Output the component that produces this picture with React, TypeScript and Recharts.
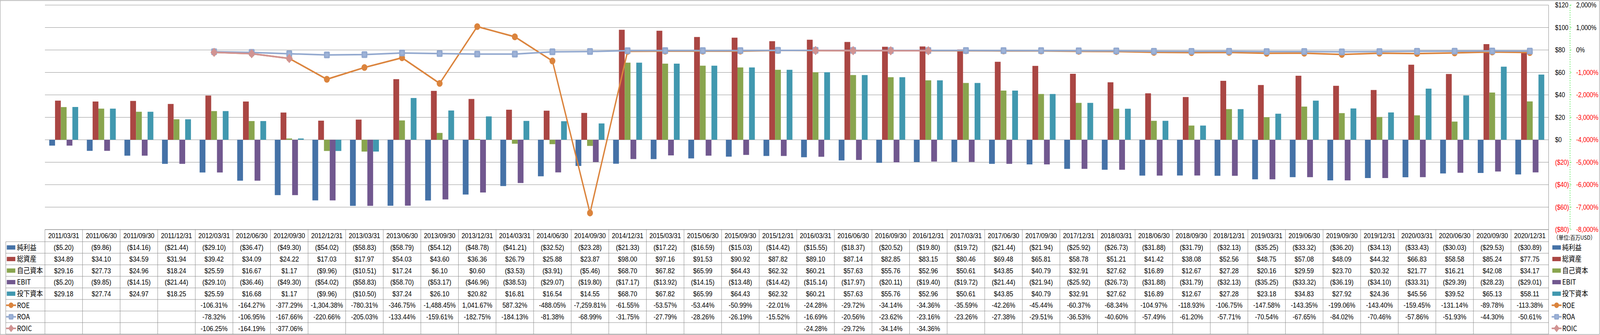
import React from "react";
import { ComposedChart, Bar, Line, XAxis, YAxis, CartesianGrid } from "recharts";

// 四半期末
const dates = [
  "2011/03/31", "2011/06/30", "2011/09/30", "2011/12/31",
  "2012/03/31", "2012/06/30", "2012/09/30", "2012/12/31",
  "2013/03/31", "2013/06/30", "2013/09/30", "2013/12/31",
  "2014/03/31", "2014/06/30", "2014/09/30", "2014/12/31",
  "2015/03/31", "2015/06/30", "2015/09/30", "2015/12/31",
  "2016/03/31", "2016/06/30", "2016/09/30", "2016/12/31",
  "2017/03/31", "2017/06/30", "2017/09/30", "2017/12/31",
  "2018/03/31", "2018/06/30", "2018/09/30", "2018/12/31",
  "2019/03/31", "2019/06/30", "2019/09/30", "2019/12/31",
  "2020/03/31", "2020/06/30", "2020/09/30", "2020/12/31",
];

// 単位: 百万USD
const netIncome = [
  -5.2, -9.86, -14.16, -21.44, -29.1, -36.47, -49.3, -54.02,
  -58.83, -58.79, -54.12, -48.78, -41.21, -32.52, -23.28, -21.33,
  -17.22, -16.59, -15.03, -14.42, -15.55, -18.37, -20.52, -19.8,
  -19.72, -21.44, -21.94, -25.92, -26.73, -31.88, -31.79, -32.13,
  -35.25, -33.32, -36.2, -34.13, -33.43, -30.03, -29.53, -30.89,
];
const totalAssets = [
  34.89, 34.1, 34.59, 31.94, 39.42, 34.09, 24.22, 17.03,
  17.97, 54.03, 43.6, 36.36, 26.79, 25.88, 23.87, 98.0,
  97.16, 91.53, 90.92, 87.82, 89.1, 87.14, 82.85, 83.15,
  80.46, 69.48, 65.81, 58.78, 51.21, 41.42, 38.08, 52.56,
  48.75, 57.08, 48.09, 44.32, 66.83, 58.58, 85.24, 77.75,
];
const equity = [
  29.16, 27.73, 24.96, 18.24, 25.59, 16.67, 1.17, -9.96,
  -10.51, 17.24, 6.1, 0.6, -3.53, -3.91, -5.46, 68.7,
  67.82, 65.99, 64.43, 62.32, 60.21, 57.63, 55.76, 52.96,
  50.61, 43.85, 40.79, 32.91, 27.62, 16.89, 12.67, 27.28,
  20.16, 29.59, 23.7, 20.32, 21.77, 16.21, 42.08, 34.17,
];
const ebit = [
  -5.2, -9.85, -14.15, -21.44, -29.1, -36.46, -49.3, -54.02,
  -58.83, -58.7, -53.17, -46.96, -38.53, -29.07, -19.8, -17.17,
  -13.92, -14.15, -13.48, -14.42, -15.14, -17.97, -20.11, -19.4,
  -19.72, -21.44, -21.94, -25.92, -26.73, -31.88, -31.79, -32.13,
  -35.25, -33.32, -36.19, -34.1, -33.31, -29.39, -28.23, -29.01,
];
const investedCapital = [
  29.18, 27.74, 24.97, 18.25, 25.59, 16.68, 1.17, -9.96,
  -10.5, 37.24, 26.1, 20.82, 16.81, 16.54, 14.55, 68.7,
  67.82, 65.99, 64.43, 62.32, 60.21, 57.63, 55.76, 52.96,
  50.61, 43.85, 40.79, 32.91, 27.62, 16.89, 12.67, 27.28,
  23.18, 34.83, 27.92, 24.36, 45.56, 39.52, 65.13, 58.11,
];

// 単位: %
const roe = [
  null, null, null, null, -106.31, -164.27, -377.29, -1304.38,
  -780.31, -346.75, -1488.45, 1041.67, 587.32, -488.05, -7259.81, -61.55,
  -53.57, -53.44, -50.99, -22.01, -24.28, -29.72, -34.14, -34.36,
  -35.59, -42.26, -45.44, -60.37, -68.34, -104.97, -118.93, -106.75,
  -147.58, -143.35, -199.06, -143.4, -159.45, -131.14, -89.78, -113.38,
];
const roa = [
  null, null, null, null, -78.32, -106.95, -167.66, -220.66,
  -205.03, -133.44, -159.61, -182.75, -184.13, -81.38, -68.99, -31.75,
  -27.79, -28.26, -26.19, -15.52, -16.69, -20.56, -23.62, -23.16,
  -23.26, -27.38, -29.51, -36.53, -40.6, -57.49, -61.2, -57.71,
  -70.54, -67.65, -84.02, -70.46, -57.86, -51.93, -44.3, -50.61,
];
const roic = [
  null, null, null, null, -106.25, -164.19, -377.06, null,
  null, null, null, null, null, null, null, null,
  null, null, null, null, -24.28, -29.72, -34.14, -34.36,
  null, null, null, null, null, null, null, null,
  null, null, null, null, null, null, null, null,
];

const usdTicks = [-80, -60, -40, -20, 0, 20, 40, 60, 80, 100, 120];
const pctTicks = [-8000, -7000, -6000, -5000, -4000, -3000, -2000, -1000, 0, 1000, 2000];

type Shape = "rect" | "circle" | "square" | "diamond";

const series = [
  { key: "netIncome", name: "純利益", color: "#4572A7", values: netIncome, shape: "rect" as Shape, kind: "usd" },
  { key: "totalAssets", name: "総資産", color: "#AA4643", values: totalAssets, shape: "rect" as Shape, kind: "usd" },
  { key: "equity", name: "自己資本", color: "#89A54E", values: equity, shape: "rect" as Shape, kind: "usd" },
  { key: "ebit", name: "EBIT", color: "#71588F", values: ebit, shape: "rect" as Shape, kind: "usd" },
  { key: "investedCapital", name: "投下資本", color: "#4198AF", values: investedCapital, shape: "rect" as Shape, kind: "usd" },
  { key: "roe", name: "ROE", color: "#DB843D", values: roe, shape: "circle" as Shape, kind: "pct" },
  { key: "roa", name: "ROA", color: "#93A9CF", values: roa, shape: "square" as Shape, kind: "pct" },
  { key: "roic", name: "ROIC", color: "#D19392", values: roic, shape: "diamond" as Shape, kind: "pct" },
];

const data = dates.map((d, i) => {
  const row: Record<string, any> = { date: d };
  series.forEach((s) => (row[s.key] = s.values[i]));
  return row;
});

// レイアウト (4701px幅で組んで、ウィンドウが狭ければ横方向だけ縮める)
const W = 4701;
const H = 858;
const LEFT = 132;
const USD_AXIS_W = 63;
const PCT_AXIS_W = 88;
const COL_W = (W - LEFT - USD_AXIS_W - PCT_AXIS_W) / dates.length;
const HEADER_H = 31;
const ROW_H = 29.6;
const GRID = "#868686";
const TABLE_FONT = "'Liberation Sans', Arial, sans-serif";
const CJK_FONT = "'Noto Sans CJK JP', sans-serif";

// 軸ID (内側の$軸が先に並ぶように)
const USD_AXIS = "a-usd";
const PCT_AXIS = "b-pct";

const fmtUsd = (v: number | null) =>
  v == null ? "" : v < 0 ? `($${Math.abs(v).toFixed(2)})` : `$${v.toFixed(2)}`;
const fmtPct = (v: number | null) =>
  v == null
    ? ""
    : `${v.toLocaleString("en-US", { minimumFractionDigits: 2, maximumFractionDigits: 2 })}%`;

function Marker({ shape, color, cx, cy, s = 1 }: { shape: Shape; color: string; cx: number; cy: number; s?: number }) {
  if (shape === "circle") return <circle cx={cx} cy={cy} r={8.7 * s} fill={color} />;
  if (shape === "square")
    return (
      <g>
        <rect x={cx - 8.6 * s} y={cy - 8.6 * s} width={17.2 * s} height={17.2 * s} rx={3 * s} fill={color} />
        <rect x={cx - 4.5 * s} y={cy - 4.5 * s} width={9 * s} height={9 * s} fill="#9EB3D8" />
      </g>
    );
  if (shape === "diamond")
    return (
      <polygon
        points={`${cx},${cy - 12 * s} ${cx + 10.5 * s},${cy} ${cx},${cy + 12 * s} ${cx - 10.5 * s},${cy}`}
        fill={color}
      />
    );
  return null;
}

function makeDot(shape: Shape, color: string) {
  return (p: any) => {
    const { cx, cy, index } = p;
    if (cx == null || cy == null || Number.isNaN(cy)) return <g key={`dot-${index}`} />;
    return (
      <g key={`dot-${index}`}>
        <Marker shape={shape} color={color} cx={cx} cy={cy} />
      </g>
    );
  };
}

function LegendKey({ s, x, cy, w }: { s: (typeof series)[number]; x: number; cy: number; w: number }) {
  if (s.shape === "rect") return <rect x={x} y={cy - 5.5} width={w} height={11} fill={s.color} />;
  return (
    <g>
      <line x1={x - 2} y1={cy} x2={x + w + 2} y2={cy} stroke={s.color} strokeWidth={4} />
      <Marker shape={s.shape} color={s.color} cx={x + w / 2} cy={cy} s={0.82} />
    </g>
  );
}

function TableColumn(props: any) {
  const { x, y, payload } = props;
  const i: number = props.index ?? payload.index;
  const left = x - COL_W / 2;
  const right = x + COL_W / 2;
  const top = y;
  const bottom = top + HEADER_H + ROW_H * series.length;
  const rowTop = (k: number) => top + HEADER_H + ROW_H * k;
  const last = i === dates.length - 1;

  return (
    <g>
      {i === 0 && <line x1={left} y1={top} x2={left} y2={bottom} stroke={GRID} />}
      <line x1={right} y1={top} x2={right} y2={bottom} stroke={GRID} />
      <text
        x={x}
        y={top + HEADER_H / 2}
        dy="0.36em"
        textAnchor="middle"
        fontSize={18.5}
        fontFamily={TABLE_FONT}
        fill="#000"
      >
        {payload.value}
      </text>
      {series.map((s, k) => (
        <g key={s.key}>
          <line x1={left} y1={rowTop(k)} x2={right} y2={rowTop(k)} stroke={GRID} />
          <text
            x={x}
            y={rowTop(k) + ROW_H / 2}
            dy="0.36em"
            textAnchor="middle"
            fontSize={18.5}
            fontFamily={TABLE_FONT}
            fill="#000"
          >
            {s.kind === "usd" ? fmtUsd(s.values[i] as number) : fmtPct(s.values[i] as number | null)}
          </text>
        </g>
      ))}
      <line x1={left} y1={bottom} x2={right} y2={bottom} stroke={GRID} />

      {i === 0 && (
        <g>
          <line x1={17} y1={rowTop(0)} x2={17} y2={bottom} stroke={GRID} />
          {series.map((s, k) => (
            <g key={s.key}>
              <line x1={17} y1={rowTop(k)} x2={left} y2={rowTop(k)} stroke={GRID} />
              <LegendKey s={s} x={20} cy={rowTop(k) + ROW_H / 2} w={25} />
              <text
                x={50}
                y={rowTop(k) + ROW_H / 2}
                dy="0.36em"
                fontSize={19}
                fontFamily={CJK_FONT}
                fill="#000"
              >
                {s.name}
              </text>
            </g>
          ))}
          <line x1={17} y1={bottom} x2={left} y2={bottom} stroke={GRID} />
        </g>
      )}

      {last && (
        <g>
          <text
            x={right + 14}
            y={top + HEADER_H / 2 + 5}
            dy="0.36em"
            fontSize={15}
            fontFamily={CJK_FONT}
            fill="#000"
          >
            （単位:百万USD）
          </text>
          {series.map((s, k) => (
            <g key={s.key}>
              <LegendKey s={s} x={right + 11} cy={rowTop(k) + ROW_H / 2} w={25} />
              <text
                x={right + 40}
                y={rowTop(k) + ROW_H / 2}
                dy="0.36em"
                fontSize={19}
                fontFamily={CJK_FONT}
                fill="#000"
              >
                {s.name}
              </text>
            </g>
          ))}
        </g>
      )}
    </g>
  );
}

function UsdTick(props: any) {
  const { x, y, payload } = props;
  const v: number = payload.value;
  return (
    <text x={x} y={y} dy="0.36em" textAnchor="start" fontSize={17.5} fontFamily={TABLE_FONT} fill={v < 0 ? "#FF0000" : "#000"}>
      {v < 0 ? `($${-v})` : `$${v}`}
    </text>
  );
}

function PctTick(props: any) {
  const { x, y, payload } = props;
  const v: number = payload.value;
  return (
    <text x={x} y={y} dy="0.36em" textAnchor="start" fontSize={17.5} fontFamily={TABLE_FONT} fill={v < 0 ? "#FF0000" : "#000"}>
      {`${v.toLocaleString("en-US")}%`}
    </text>
  );
}

export default function App() {
  const vw = typeof window !== "undefined" ? window.innerWidth : W;
  const sx = Math.min(1, vw / W);
  return (
    <div
      style={{
        position: "absolute",
        left: 0,
        top: 0,
        width: W,
        height: H,
        background: "#fff",
        transform: `scaleX(${sx})`,
        transformOrigin: "0 0",
      }}
    >
      <ComposedChart
        width={W}
        height={H}
        data={data}
        margin={{ top: 13, right: 0, bottom: 0, left: LEFT }}
        barCategoryGap="11.5%"
        barGap={0}
      >
        <CartesianGrid yAxisId={USD_AXIS} vertical={false} stroke={GRID} fill="none" />
        <XAxis
          dataKey="date"
          height={270}
          interval={0}
          tickSize={0}
          tickMargin={0}
          axisLine={{ stroke: GRID }}
          tickLine={false}
          tick={TableColumn}
        />
        <YAxis
          yAxisId={USD_AXIS}
          orientation="right"
          width={USD_AXIS_W}
          domain={[-80, 120]}
          ticks={usdTicks}
          interval={0}
          axisLine={{ stroke: GRID }}
          tickLine={false}
          tickSize={4}
          tickMargin={15}
          tick={UsdTick}
        />
        <YAxis
          yAxisId={PCT_AXIS}
          orientation="right"
          width={PCT_AXIS_W}
          domain={[-8000, 2000]}
          ticks={pctTicks}
          interval={0}
          axisLine={{ stroke: "#00E000", strokeDasharray: "3 3" }}
          tickLine={{ stroke: "#00E000" }}
          tickSize={4}
          tickMargin={14}
          tick={PctTick}
        />
        {series
          .filter((s) => s.kind === "usd")
          .map((s) => (
            <Bar key={s.key} yAxisId={USD_AXIS} dataKey={s.key} name={s.name} fill={s.color} isAnimationActive={false} />
          ))}
        {series
          .filter((s) => s.kind === "pct")
          .map((s) => (
            <Line
              key={s.key}
              yAxisId={PCT_AXIS}
              type="linear"
              dataKey={s.key}
              name={s.name}
              stroke={s.color}
              strokeWidth={4}
              dot={makeDot(s.shape, s.color)}
              activeDot={false}
              connectNulls={false}
              isAnimationActive={false}
            />
          ))}
      </ComposedChart>
      <div
        style={{
          position: "absolute",
          left: 0,
          top: 1,
          width: W - 1,
          height: H - 2,
          border: `1px solid ${GRID}`,
          boxSizing: "border-box",
          pointerEvents: "none",
        }}
      />
    </div>
  );
}
